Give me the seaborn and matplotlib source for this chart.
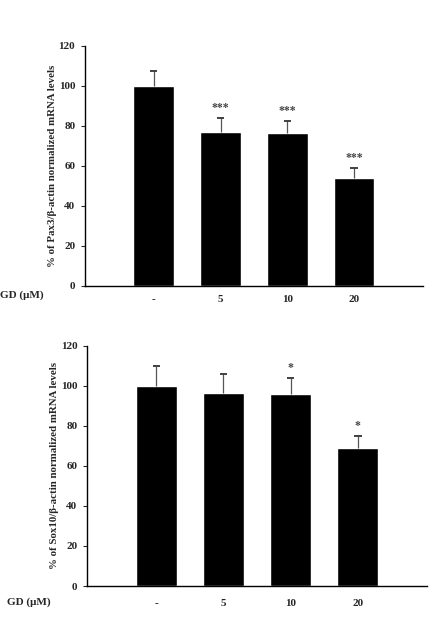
import matplotlib
matplotlib.use("Agg")
import matplotlib.pyplot as plt
import seaborn as sns
import pandas as pd

# data
doses = ["-", "5", "10", "20"]
pax3_mean = [100, 77, 76.5, 54]
pax3_err = [7.5, 7, 6, 5]
pax3_sig = ["", "***", "***", "***"]
sox10_mean = [100, 96.5, 96, 69]
sox10_err = [10, 9.5, 8, 6]
sox10_sig = ["", "", "*", "*"]

sns.set_style("white")
plt.rcParams["font.family"] = ["Liberation Serif", "DejaVu Serif"]
plt.rcParams["font.weight"] = "bold"

fig = plt.figure(figsize=(4.44, 6.17), dpi=100)
ax1 = fig.add_axes([0.1914, 0.5365, 0.761, 0.3895])
ax2 = fig.add_axes([0.196, 0.0502, 0.766, 0.3895])


def draw_panel(ax, mean, err, sig, ylabel, xpad):
    df = pd.DataFrame({"dose": doses, "value": mean})
    sns.barplot(data=df, x="dose", y="value", color="black", width=0.61,
                saturation=1, ax=ax)
    # upper error bars only
    xs = list(range(len(doses)))
    tops = [m + e for m, e in zip(mean, err)]
    ax.vlines(xs, mean, tops, color="#555555", linewidth=0.9, zorder=3)
    ax.hlines(tops, [x - 0.055 for x in xs], [x + 0.055 for x in xs],
              color="#333333", linewidth=1.3, zorder=3)
    for i, s in enumerate(sig):
        if s:
            ax.text(i, tops[i] + 2, s, ha="center", va="bottom",
                    fontsize=8.5, color="#444444")
    ax.set_ylim(0, 120)
    ax.set_xlim(-1.03, len(doses) - 1 + 1.03)
    ax.set_yticks(range(0, 121, 20))
    ax.set_xlabel("")
    ax.set_ylabel(ylabel, fontsize=7.8, fontweight="bold", labelpad=1)
    ax.tick_params(axis="y", left=True, length=3, width=0.8, labelsize=8,
                   pad=4)
    ax.tick_params(axis="x", bottom=False, labelsize=8, pad=xpad)
    for lab in ax.get_xticklabels() + ax.get_yticklabels():
        lab.set_fontweight("bold")
    sns.despine(ax=ax)
    for sp in ["left", "bottom"]:
        ax.spines[sp].set_color("black")
        ax.spines[sp].set_linewidth(1.0)


draw_panel(ax1, pax3_mean, pax3_err, pax3_sig,
           "% of Pax3/β-actin normalized mRNA levels", 3)
draw_panel(ax2, sox10_mean, sox10_err, sox10_sig,
           "% of Sox10/β-actin normalized mRNA levels", 6)

fig.text(0.0, 0.522, "GD (μM)", fontsize=8, fontweight="bold", va="center")
fig.text(0.016, 0.0243, "GD (μM)", fontsize=8, fontweight="bold", va="center")

fig.savefig("out.png", dpi=100, facecolor="white")
